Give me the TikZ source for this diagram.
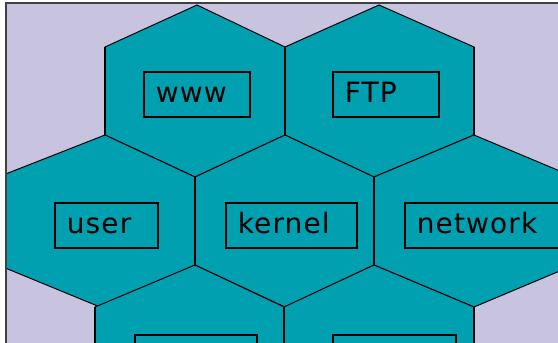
\documentclass[tikz,border=0pt]{standalone}
\usepackage{fontspec}
\setmainfont{DejaVu Sans}[LetterSpace=4]
\definecolor{cellteal}{RGB}{0,160,176}
\definecolor{bglav}{RGB}{200,196,224}
\definecolor{framegray}{RGB}{64,64,64}
\tikzset{
  cellfill/.style={fill=cellteal},
  celledge/.style={draw=black, line width=1pt},
  cellside/.style={draw=black, line width=1.8pt},
  labelbox/.style={draw=black, line width=1.8pt, fill=cellteal, anchor=north west, align=left, inner xsep=12pt, inner ysep=0pt, minimum height=45pt, text height=17pt, text depth=0pt, font=\fontsize{28}{28}\selectfont},
  framerule/.style={draw=framegray, line width=2pt}
}
% left x, right x, top vertex x, bottom vertex x, top y
\newcommand\hexcell[5]{%
  \filldraw[cellfill, celledge] (#3,#5) -- (#2,#5+42) -- (#2,#5+130) -- (#4,#5+172) -- (#1,#5+130) -- (#1,#5+42) -- cycle;
  \draw[cellside] (#1,#5+42) -- (#1,#5+130) (#2,#5+42) -- (#2,#5+130);
}

\begin{document}
\begin{tikzpicture}[x=1pt, y=-1pt]
  \useasboundingbox (0,0) rectangle (558,343);
  \fill[white] (0,0) rectangle (558,343);
  \fill[bglav] (5.5,2.5) rectangle (558,343);

  \begin{scope}
    \clip (5.5,2.5) rectangle (558,343);
    % top row
    \hexcell{105}{285}{197}{195}{5}
    \hexcell{285}{474}{379}{374}{5}
    % middle row
    \hexcell{-2}{195}{105}{100}{135}
    \hexcell{195}{374}{285}{285}{135}
    \hexcell{374}{574}{474}{474}{135}
    % bottom row
    \hexcell{95}{284}{195}{190}{265}
    \hexcell{284}{474}{374}{378}{265}

    \node[labelbox, text width=82pt] (www) at (143,71) {www};
    \node[labelbox, text width=82pt] (ftp) at (332,71) {FTP};
    \node[labelbox, text width=79pt] (user) at (54,202) {user};
    \node[labelbox, text width=107pt] (kernel) at (225,202) {kernel};
    \node[labelbox, text width=130pt] (network) at (404,202) {network};
    \node[labelbox, text width=98pt] (linux) at (134,334) {linux};
    \node[labelbox, text width=99pt] (database) at (332,334) {database};
  \end{scope}

  \draw[framerule] (5.5,343) -- (5.5,2.5) -- (558,2.5);
\end{tikzpicture}
\end{document}
